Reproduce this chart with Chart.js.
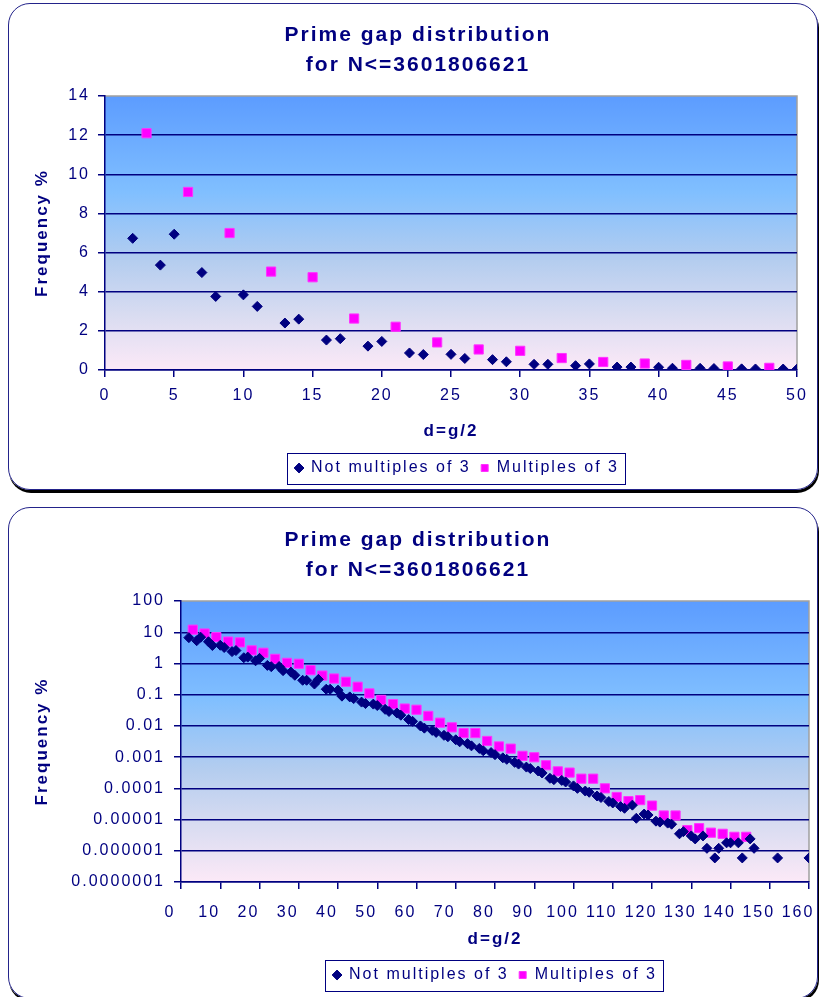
<!DOCTYPE html>
<html>
<head>
<meta charset="utf-8">
<script src="https://cdn.jsdelivr.net/npm/chart.js@4.4.1/dist/chart.umd.min.js"></script>
<style>
body { margin: 0; background: #fff; overflow: hidden; }
.box { position: absolute; left: 8px; width: 810px; box-sizing: border-box;
       border: 1.5px solid #23238a; border-radius: 22px; box-shadow: 1px 3px 0 #000; }
.wrap { position: absolute; left: 9px; width: 808px; }
</style>
</head>
<body>
<div class="box" style="top:3px;height:487px"></div>
<div class="wrap" style="top:4px;height:485px"><canvas id="linChart"></canvas></div>
<div class="box" style="top:507px;height:492px"></div>
<div class="wrap" style="top:508px;height:489px"><canvas id="logChart"></canvas></div>

<script>
// d = g/2 values that are not multiples of 3, and their frequency in %
const otherD = [2, 4, 5, 7, 8, 10, 11, 13, 14, 16, 17, 19, 20, 22, 23, 25, 26, 28, 29, 31, 32, 34, 35, 37, 38,
    40, 41, 43, 44, 46, 47, 49, 50, 52, 53, 55, 56, 58, 59, 61, 62, 64, 65, 67, 68, 70, 71, 73, 74, 76, 77,
    79, 80, 82, 83, 85, 86, 88, 89, 91, 92, 94, 95, 97, 98, 100, 101, 103, 104, 106, 107, 109, 110, 112, 113,
    115, 116, 118, 119, 121, 122, 124, 125, 127, 128, 130, 131, 133, 134, 136, 137, 139, 140, 142, 143, 145,
    146, 152, 160];
const otherFreq = [6.73, 5.36, 6.94, 4.98, 3.76, 3.84, 3.25, 2.40, 2.60, 1.53, 1.60, 1.22, 1.46, 0.87, 0.79,
    0.80, 0.59, 0.53, 0.42, 0.29, 0.29, 0.22, 0.31, 0.15, 0.15,
    0.14, 0.09, 0.085, 0.075, 0.058, 0.052, 0.050, 0.045, 0.034, 0.029, 0.026, 0.022, 0.016, 0.014,
    0.0100, 0.0085, 0.0072, 0.0062, 0.0050, 0.0045, 0.0036, 0.0031, 0.0027, 0.0023, 0.0019, 0.0016,
    0.0014, 0.0012, 0.00095, 0.00085, 0.00068, 0.00060, 0.00048, 0.00043, 0.00036, 0.00031,
    0.00021, 0.00019, 0.00018, 0.00016, 0.00012, 0.00010, 0.000082, 0.000075, 0.000057, 0.000051,
    0.000038, 0.000034, 0.000026, 0.000023, 0.000029, 0.000011, 0.000015, 0.000014,
    0.0000089, 0.0000083, 0.0000077, 0.0000071, 0.0000035, 0.0000041, 0.0000030, 0.0000024,
    0.0000030, 0.0000012, 0.00000059, 0.0000012, 0.0000018, 0.0000018, 0.0000018, 0.00000059,
    0.0000024, 0.0000012, 0.00000059, 0.00000059];

// d values that are multiples of 3
const mult3D = [3, 6, 9, 12, 15, 18, 21, 24, 27, 30, 33, 36, 39, 42, 45, 48, 51, 54, 57, 60, 63, 66, 69,
    72, 75, 78, 81, 84, 87, 90, 93, 96, 99, 102, 105, 108, 111, 114, 117, 120, 123, 126, 129, 132, 135,
    138, 141, 144];
const mult3Freq = [12.1, 9.1, 7.0, 5.03, 4.74, 2.63, 2.21, 1.41, 1.05, 0.98, 0.61, 0.41, 0.33, 0.26, 0.18,
    0.11, 0.068, 0.050, 0.036, 0.033, 0.021, 0.0127, 0.0090, 0.0059, 0.0059, 0.0033, 0.0022, 0.00187,
    0.0011, 0.00099, 0.00055, 0.00035, 0.00032, 0.000204, 0.000204, 0.0001, 0.000053, 0.000039,
    0.000042, 0.000028, 0.0000135, 0.0000135, 0.0000046, 0.0000053, 0.0000038, 0.0000035, 0.0000028,
    0.0000028];

const logTickLabels = ['0.0000001', '0.000001', '0.00001', '0.0001', '0.001', '0.01', '0.1', '1', '10', '100'];
const logTickValues = logTickLabels.map(Number);

const titleLines = ['Prime gap distribution', 'for N<=3601806621'];
const navy = '#000080';

Chart.defaults.font.family = '"Liberation Sans", Arial, sans-serif';
Chart.defaults.color = navy;

function points(xs, ys, maxX) {
    return xs.map((x, i) => ({ x, y: ys[i] })).filter(p => p.x <= maxX);
}

// gradient plot area, gray top/right edge, spaced text, boxed legend under the plot
const excelLook = {
    id: 'excelLook',
    beforeUpdate(chart) { chart.ctx.letterSpacing = '2px'; },
    afterLayout(chart, args, opts) {
        const lg = chart.legend, a = chart.chartArea;
        const shift = opts.legendShift || 0;
        lg.left = a.left + shift; lg.right = a.right + shift; lg.width = a.right - a.left;
        const t = chart.titleBlock;
        t.left = 5; t.right = chart.width + 5; t.width = chart.width;
    },
    beforeDraw(chart) {
        const { ctx, chartArea: a } = chart;
        ctx.letterSpacing = '2px';
        const g = ctx.createLinearGradient(0, a.top, 0, a.bottom);
        g.addColorStop(0, '#5c9cff');
        g.addColorStop(0.35, '#80bfff');
        g.addColorStop(0.6, '#b4cdef');
        g.addColorStop(0.8, '#d9dcf1');
        g.addColorStop(1, '#fce9f7');
        ctx.save();
        ctx.fillStyle = g;
        ctx.fillRect(a.left, a.top, a.right - a.left, a.bottom - a.top);
        ctx.strokeStyle = '#a0a0a0';
        ctx.lineWidth = 1.5;
        ctx.beginPath();
        ctx.moveTo(a.left, a.top);
        ctx.lineTo(a.right, a.top);
        ctx.lineTo(a.right, a.bottom);
        ctx.stroke();
        ctx.restore();
    },
    afterDraw(chart) {
        const boxes = chart.legend.legendHitBoxes;
        if (!boxes || !boxes.length) return;
        const ctx = chart.ctx;
        const l = Math.min(...boxes.map(b => b.left)) - 8;
        const r = Math.max(...boxes.map(b => b.left + b.width)) + 6;
        const cy = boxes[0].top + boxes[0].height / 2;
        ctx.save();
        ctx.strokeStyle = navy;
        ctx.lineWidth = 1;
        ctx.strokeRect(Math.round(l) + 0.5, Math.round(cy - 15.5) + 0.5, Math.round(r - l), 31);
        ctx.restore();
    }
};

function datasets(maxX) {
    return [{
        label: 'Not multiples of 3',
        data: points(otherD, otherFreq, maxX),
        pointStyle: 'rectRot',
        pointRadius: 5,
        backgroundColor: navy,
        borderColor: navy,
        borderWidth: 1
    }, {
        label: 'Multiples of 3',
        data: points(mult3D, mult3Freq, maxX),
        pointStyle: 'rect',
        pointRadius: 6.5,
        backgroundColor: '#ff00ff',
        borderColor: '#ff33ff',
        borderWidth: 1
    }];
}

function plugins(titleTop, legendShift) {
    return {
        title: {
            display: true, text: titleLines, color: navy,
            font: { size: 21, weight: 'bold', lineHeight: 1.43 },
            padding: { top: titleTop, bottom: 16 }
        },
        legend: {
            position: 'bottom',
            labels: { usePointStyle: true, boxWidth: 8, boxHeight: 7, padding: 10, color: navy, font: { size: 16 } }
        },
        tooltip: { enabled: false },
        excelLook: { legendShift }
    };
}

const yTitle = { display: true, text: 'Frequency %', color: navy, font: { size: 17, weight: 'bold' }, padding: { top: 23 } };
const xTitle = pb => ({ display: true, text: 'd=g/2', color: navy, font: { size: 17, weight: 'bold' }, padding: { top: 0, bottom: pb } });

new Chart(document.getElementById('linChart'), {
    type: 'scatter',
    data: { datasets: datasets(50) },
    options: {
        responsive: true,
        maintainAspectRatio: false,
        animation: false,
        layout: { padding: { left: 0, right: 20, top: 0, bottom: 3 } },
        plugins: plugins(16, 6),
        scales: {
            x: {
                type: 'linear', min: 0, max: 50,
                afterFit: s => { s.height = 80; s.paddingLeft = 0; s.paddingRight = 0; },
                ticks: { stepSize: 5, padding: 9, color: navy, font: { size: 16 }, maxRotation: 0, autoSkip: false },
                grid: { drawOnChartArea: false, color: navy, tickColor: navy, tickLength: 7, lineWidth: 1.5 },
                border: { color: navy, width: 1.5 },
                title: xTitle(8)
            },
            y: {
                type: 'linear', min: 0, max: 14,
                afterFit: s => { s.width = 96; },
                ticks: { stepSize: 2, padding: 8, color: navy, font: { size: 16 } },
                grid: { color: c => (c.tick && c.tick.value === 14 ? 'rgba(0,0,0,0)' : navy), tickColor: navy, tickLength: 7, lineWidth: 1.5 },
                border: { color: navy, width: 1.5 },
                title: yTitle
            }
        }
    },
    plugins: [excelLook]
});

new Chart(document.getElementById('logChart'), {
    type: 'scatter',
    data: { datasets: datasets(160) },
    options: {
        responsive: true,
        maintainAspectRatio: false,
        animation: false,
        layout: { padding: { left: 0, right: 8, top: 0, bottom: 4 } },
        plugins: plugins(17, 0),
        scales: {
            x: {
                type: 'linear', min: 0, max: 160,
                afterFit: s => { s.height = 75; s.paddingLeft = 0; s.paddingRight = 0; },
                ticks: { stepSize: 10, padding: 14, labelOffset: -11, color: navy, font: { size: 16 }, maxRotation: 0, autoSkip: false },
                grid: { drawOnChartArea: false, color: navy, tickColor: navy, tickLength: 7, lineWidth: 1.5 },
                border: { color: navy, width: 1.5 },
                title: xTitle(7)
            },
            y: {
                type: 'logarithmic', min: 1e-7, max: 100,
                afterFit: s => { s.width = 172; },
                afterBuildTicks: s => { s.ticks = logTickValues.map(v => ({ value: v })); },
                ticks: { padding: 9, color: navy, font: { size: 16 }, callback: (v, i) => logTickLabels[i] },
                grid: { color: c => (c.tick && c.tick.value === 100 ? 'rgba(0,0,0,0)' : navy), tickColor: navy, tickLength: 7, lineWidth: 1.5 },
                border: { color: navy, width: 1.5 },
                title: yTitle
            }
        }
    },
    plugins: [excelLook]
});
</script>
</body>
</html>
